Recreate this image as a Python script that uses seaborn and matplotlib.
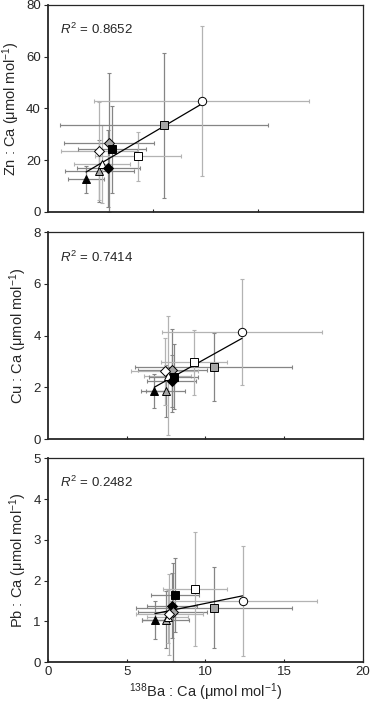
import numpy as np
import pandas as pd
import seaborn as sns
import matplotlib.pyplot as plt

sns.set_style("ticks")
plt.rcParams['font.family'] = ['Liberation Sans', 'DejaVu Sans']
plt.rcParams['mathtext.fontset'] = 'custom'
plt.rcParams['mathtext.rm'] = 'Liberation Sans'
plt.rcParams['mathtext.it'] = 'Liberation Sans:italic'

# 样本组: 形状 + 填充色
groups = ['黑三角', '灰三角', '白三角', '黑菱形', '灰菱形', '白菱形',
          '黑方块', '灰方块', '白方块', '白圆']
markers = ['^', '^', '^', 'D', 'D', 'D', 's', 's', 's', 'o']
fills = ['black', '#a6a6a6', 'white', 'black', '#a6a6a6', 'white',
         'black', '#a6a6a6', 'white', 'white']

# Zn:Ca 面板
zn_x = [3.64, 4.9, 5.16, 5.76, 5.83, 4.85, 6.11, 11.09, 8.62, 14.64]
zn_y = [12.5, 15.8, 18.4, 16.8, 26.8, 23.5, 24.1, 33.4, 21.5, 42.8]
zn_xerr = [1.75, 3.3, 2.7, 3.0, 4.25, 3.6, 3.2, 9.9, 4.1, 10.2]
zn_yerr = [5.4, 12, 15, 15, 27, 19, 17, 28.2, 9.5, 29]

# Cu:Ca 面板
cu_x = [6.76, 7.47, 7.6, 7.86, 7.9, 7.41, 8.0, 10.52, 9.29, 12.33]
cu_y = [1.87, 1.87, 2.45, 2.25, 2.66, 2.62, 2.41, 2.79, 2.97, 4.14]
cu_xerr = [0.85, 1.25, 1.5, 1.56, 2.2, 2.1, 1.56, 5.0, 2.08, 5.1]
cu_yerr = [0.65, 1.0, 2.3, 1.0, 1.6, 1.3, 1.25, 1.3, 1.25, 2.05]

# Pb:Ca 面板
pb_x = [6.8, 7.47, 7.6, 7.88, 7.92, 7.72, 8.05, 10.56, 9.33, 12.36]
pb_y = [1.04, 1.04, 1.12, 1.39, 1.24, 1.17, 1.65, 1.34, 1.8, 1.5]
pb_xerr = [0.85, 1.5, 1.3, 1.6, 2.2, 2.1, 1.53, 4.95, 2.05, 4.75]
pb_yerr = [0.47, 0.7, 0.65, 0.8, 1.2, 1.0, 0.9, 1.0, 1.4, 1.35]

r2_text = ['0.8652', '0.7414', '0.2482']
ylabels = ['Zn : Ca (μmol mol$^{−1}$)', 'Cu : Ca (μmol mol$^{−1}$)',
           'Pb : Ca (μmol mol$^{−1}$)']

panels = [
    (zn_x, zn_y, zn_xerr, zn_yerr, (0, 30), [10, 20], (0, 80), [0, 20, 40, 60, 80]),
    (cu_x, cu_y, cu_xerr, cu_yerr, (0, 20), [5, 10, 15], (0, 8), [0, 2, 4, 6, 8]),
    (pb_x, pb_y, pb_xerr, pb_yerr, (0, 20), [0, 5, 10, 15, 20], (0, 5), [0, 1, 2, 3, 4, 5]),
]
boxes = [(0.700, 0.993), (0.378, 0.671), (0.062, 0.351)]

fig = plt.figure(figsize=(3.71, 7.06), dpi=100)

for i, (x, y, xe, ye, xl, xt, yl, yt) in enumerate(panels):
    b0, b1 = boxes[i]
    ax = fig.add_axes([0.129, b0, 0.849, b1 - b0])
    df = pd.DataFrame({'x': x, 'y': y})

    for j in range(len(groups)):
        ec = '#b3b3b3' if fills[j] == 'white' else '#858585'
        ax.errorbar(x[j], y[j], xerr=xe[j], yerr=ye[j], fmt='none',
                    ecolor=ec, elinewidth=0.9, capsize=1.5, capthick=0.8, zorder=2)

    # 线性回归线
    sns.regplot(data=df, x='x', y='y', ax=ax, scatter=False, ci=None,
                truncate=True, color='black', line_kws={'lw': 0.9, 'zorder': 3})

    for j in range(len(groups)):
        ms = 5 if markers[j] == 'D' else 6
        ax.plot(x[j], y[j], linestyle='none', marker=markers[j], ms=ms,
                mfc=fills[j], mec='black', mew=0.7, zorder=4)

    ax.set_xlim(*xl)
    ax.set_ylim(*yl)
    ax.set_xticks(xt)
    ax.set_yticks(yt)
    ax.tick_params(axis='x', direction='in', length=2.5, labelsize=9.5, pad=3)
    ax.tick_params(axis='y', direction='out', length=3, labelsize=9.5, pad=2)
    if i < 2:
        ax.tick_params(axis='x', labelbottom=False)
    for s in ['left', 'bottom']:
        ax.spines[s].set_linewidth(1.3)
    for s in ['top', 'right']:
        ax.spines[s].set_linewidth(0.9)
        ax.spines[s].set_visible(True)
    ax.set_xlabel('')
    ax.set_ylabel(ylabels[i], fontsize=10.5, labelpad=3)
    ax.text(0.04, 0.88, '$R^2$ = ' + r2_text[i], transform=ax.transAxes,
            fontsize=9.5, va='center', ha='left')
    if i == 2:
        ax.set_xlabel('$^{138}$Ba : Ca (μmol mol$^{−1}$)', fontsize=10.5, labelpad=2)

fig.savefig('out.png', dpi=100)
